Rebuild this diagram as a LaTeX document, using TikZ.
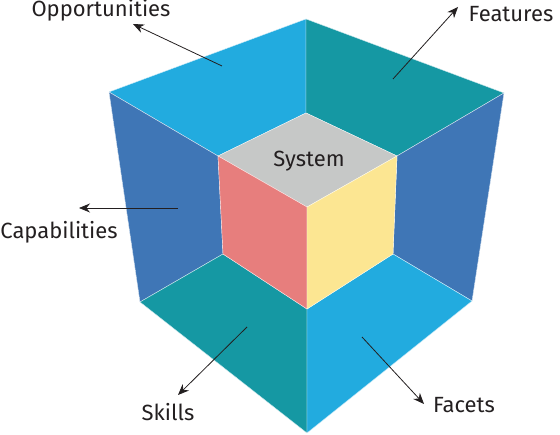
\documentclass[tikz,border=0pt]{standalone}
\usepackage{fontspec}
\setmainfont{Fira Sans}
\usetikzlibrary{arrows.meta}
\definecolor{skyblue}{RGB}{34,171,223}
\definecolor{tealgreen}{RGB}{21,152,163}
\definecolor{steelblue}{RGB}{63,118,182}
\definecolor{coregray}{RGB}{198,200,199}
\definecolor{corered}{RGB}{231,126,125}
\definecolor{coreyellow}{RGB}{252,230,146}
\definecolor{textdark}{RGB}{35,31,32}

\begin{document}
\begin{tikzpicture}[x=1pt, y=-1pt,
    face/.style={fill=#1, draw=white!80!#1, line width=0.4pt, line join=round},
    facetext/.style={text=textdark, font=\fontsize{22}{26}\selectfont, inner sep=0pt},
    pointer/.style={draw=textdark, line width=0.8pt, -{Stealth[length=11pt, width=9pt]}}]
    \useasboundingbox (0,0) rectangle (560,435);

    % Esquinas exteriores
    \coordinate (T)  at (306,19);
    \coordinate (TL) at (109,92);
    \coordinate (TR) at (504,93);
    \coordinate (BL) at (140,302);
    \coordinate (BR) at (472,301);
    \coordinate (B)  at (307,433);

    % Esquinas del cubo interior
    \coordinate (iT)  at (306,113);
    \coordinate (iTL) at (218,156);
    \coordinate (iTR) at (397,156);
    \coordinate (iC)  at (307,207);
    \coordinate (iBL) at (223,254);
    \coordinate (iBR) at (393,254);
    \coordinate (iB)  at (307,309);

    % Caras exteriores
    \draw[face=skyblue]   (TL) -- (T) -- (iT) -- (iTL) -- cycle;
    \draw[face=tealgreen] (T) -- (TR) -- (iTR) -- (iT) -- cycle;
    \draw[face=steelblue] (TL) -- (iTL) -- (iBL) -- (BL) -- cycle;
    \draw[face=steelblue] (TR) -- (BR) -- (iBR) -- (iTR) -- cycle;
    \draw[face=tealgreen] (BL) -- (iBL) -- (iB) -- (B) -- cycle;
    \draw[face=skyblue]   (iB) -- (iBR) -- (BR) -- (B) -- cycle;

    % Cubo interior
    \draw[face=coregray]   (iT) -- (iTR) -- (iC) -- (iTL) -- cycle;
    \draw[face=corered]    (iTL) -- (iC) -- (iB) -- (iBL) -- cycle;
    \draw[face=coreyellow] (iC) -- (iTR) -- (iBR) -- (iB) -- cycle;

    % Etiquetas
    \node[facetext] (system)        at (309,161) {System};
    \node[facetext] (opportunities) at (101,10)  {Opportunities};
    \node[facetext] (features)      at (511,14)  {Features};
    \node[facetext] (capabilities)  at (59,232)  {Capabilities};
    \node[facetext] (skills)        at (168,412) {Skills};
    \node[facetext] (facets)        at (464,405) {Facets};

    % Flechas
    \coordinate (opp-s) at (222,66);  \coordinate (opp-e) at (133,24);
    \coordinate (fea-s) at (393,79);  \coordinate (fea-e) at (458,7);
    \coordinate (cap-s) at (178,208); \coordinate (cap-e) at (79,208);
    \coordinate (ski-s) at (247,327); \coordinate (ski-e) at (178,395);
    \coordinate (fac-s) at (362,337); \coordinate (fac-e) at (424,404);
    \foreach \n in {opp, fea, cap, ski, fac} {
        \draw[pointer] (\n-s) -- (\n-e);
    }
\end{tikzpicture}
\end{document}
